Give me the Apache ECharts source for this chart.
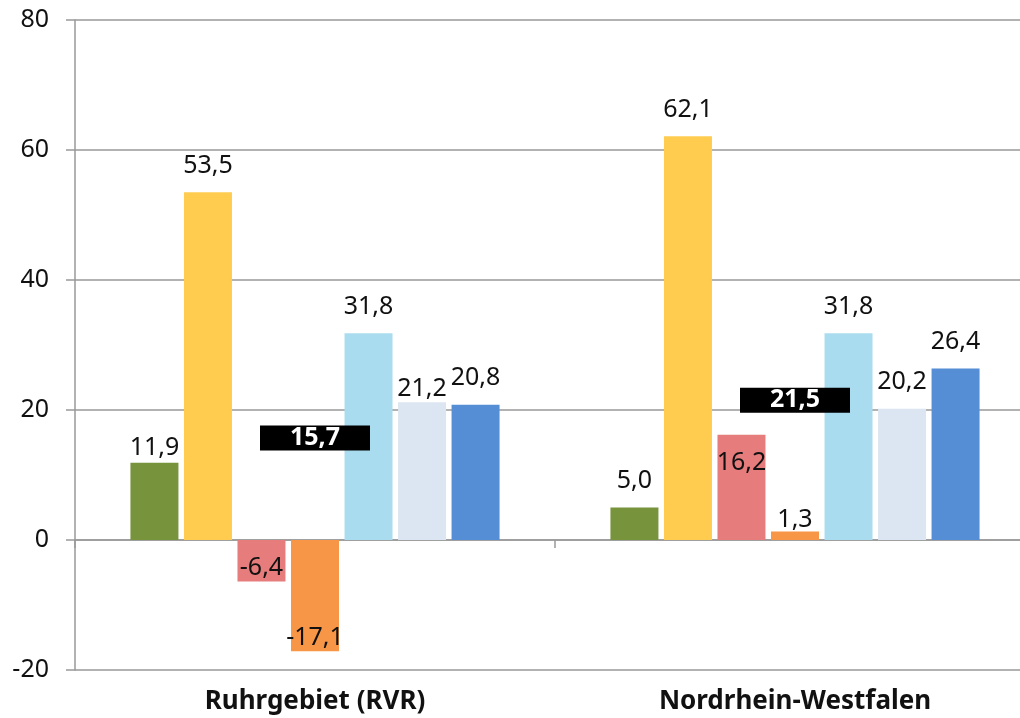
<!DOCTYPE html>
<html>
<head>
<meta charset="utf-8">
<script src="https://cdn.jsdelivr.net/npm/echarts@6/dist/echarts.min.js"></script>
<style>
  html, body { margin: 0; padding: 0; background: #fff; overflow: hidden; width: 1020px; height: 718px; }
  #chart { width: 1035px; height: 718px; }
</style>
</head>
<body>
<div id="chart"></div>
<script>
const categories = ['Ruhrgebiet (RVR)', 'Nordrhein-Westfalen'];
const seriesGreen = [11.9, 5.0];
const seriesYellow = [53.5, 62.1];
const seriesPink = [-6.4, 16.2];
const seriesOrange = [-17.1, 1.3];
const seriesLightBlue = [31.8, 31.8];
const seriesPale = [21.2, 20.2];
const seriesBlue = [20.8, 26.4];
const totalMarker = [15.7, 21.5];
const yTicks = { min: -20, max: 80, interval: 20 };

const colors = ['#77933C', '#FFCC4F', '#E67C7C', '#F79646', '#A8DCEE', '#DCE6F2', '#558ED5'];
const allSeries = [seriesGreen, seriesYellow, seriesPink, seriesOrange, seriesLightBlue, seriesPale, seriesBlue];

// label placement tweaks (series index - category index), style only
const labelTweaks = {
  '0-0': { position: 'top', distance: 2 },
  '5-0': { position: 'top', distance: 1 },
  '2-1': { position: 'insideTop', distance: 16 },
  '3-1': { position: 'top', distance: -1 }
};

const fmt = v => Number(v).toFixed(1).replace('.', ',');
const FONT = 'Noto Sans';

const barSeries = allSeries.map((vals, i) => ({
  type: 'bar',
  xAxisIndex: 0,
  barWidth: 48,
  barGap: '11.5%',
  itemStyle: { color: colors[i] },
  data: vals.map((v, j) => ({
    value: v,
    label: labelTweaks[i + '-' + j] ||
      { position: v < 0 ? 'insideBottom' : 'top', distance: v < 0 ? 1 : 14 }
  })),
  label: {
    show: true,
    color: '#111',
    fontFamily: FONT,
    fontSize: 25,
    formatter: p => fmt(p.value)
  }
}));

const chart = echarts.init(document.getElementById('chart'), null, { renderer: 'canvas' });
chart.setOption({
  animation: false,
  backgroundColor: '#fff',
  grid: { left: 75, right: 0, top: 20, bottom: 48 },
  xAxis: [
    {
      type: 'category',
      data: categories,
      position: 'bottom',
      axisLine: { show: false, onZero: false },
      axisTick: { show: false },
      axisLabel: { fontFamily: FONT, fontSize: 26, fontWeight: 'bold', color: '#111', margin: 19 }
    },
    {
      type: 'category',
      data: categories,
      position: 'bottom',
      axisLine: { show: true, onZero: true, lineStyle: { color: '#999', width: 1.5 } },
      axisTick: { show: true, length: 8, lineStyle: { color: '#999', width: 1.5 } },
      axisLabel: { show: false }
    }
  ],
  yAxis: {
    type: 'value',
    min: yTicks.min,
    max: yTicks.max,
    interval: yTicks.interval,
    axisLine: { show: true, lineStyle: { color: '#999', width: 1.5 } },
    axisTick: { show: true, length: 9, lineStyle: { color: '#999', width: 1.5 } },
    splitLine: { show: true, lineStyle: { color: '#999', width: 1.5 } },
    axisLabel: { fontFamily: FONT, fontSize: 25, color: '#111', margin: 26 }
  },
  series: barSeries.concat([{
    type: 'scatter',
    xAxisIndex: 0,
    z: 10,
    symbol: 'rect',
    symbolSize: [110, 25],
    itemStyle: { color: '#000', opacity: 1 },
    data: totalMarker,
    label: {
      show: true,
      position: 'inside',
      color: '#fff',
      fontFamily: FONT,
      fontSize: 25,
      fontWeight: 'bold',
      formatter: p => fmt(p.value)
    }
  }])
});
</script>
</body>
</html>
